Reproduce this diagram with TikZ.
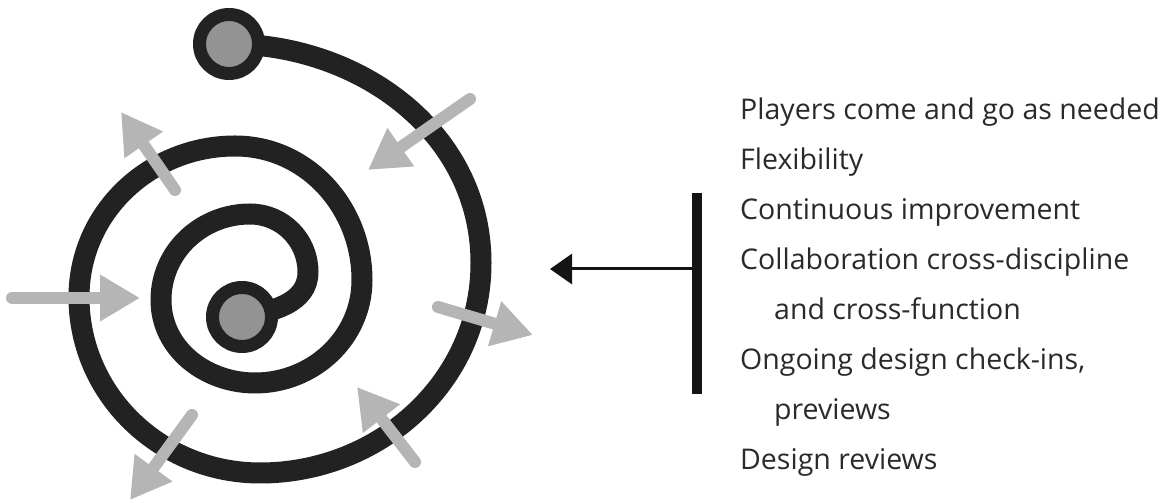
\documentclass[tikz,border=0pt]{standalone}
\usepackage{fontspec}
\setmainfont{Open Sans}
\usetikzlibrary{arrows.meta}
\definecolor{coildark}{HTML}{222222}
\definecolor{hubgray}{HTML}{939393}
\definecolor{flowgray}{HTML}{B5B5B5}
\definecolor{textdark}{HTML}{2A2A2A}
\newcommand{\itemfont}{\fontsize{28.5}{34}\selectfont}

\begin{document}
\begin{tikzpicture}[x=1pt, y=1pt, line join=round,
  coil/.style={draw=coildark, line width=21pt, line cap=round},
  hub/.style={circle, draw=coildark, fill=hubgray, line width=13pt, minimum size=59pt, inner sep=0pt},
  flow/.style={draw=flowgray, line width=12pt, line cap=round, -{Triangle[length=40pt,width=44pt]}},
  item/.style={anchor=base west, font=\itemfont, text=textdark, inner sep=0pt}]
\useasboundingbox (0,0) rectangle (1173,503);

\coordinate (s0) at (229,459);
\coordinate (s1) at (481,240);
\coordinate (s2) at (260,30);
\coordinate (s3) at (79,206);
\coordinate (s4) at (235,357);
\coordinate (s5) at (362,223);
\coordinate (s6) at (255,120);
\coordinate (s7) at (161,203);
\coordinate (s8) at (250,289);
\coordinate (s9) at (308,231);
\coordinate (s10) at (242,186);

\draw[coil] (s0) to[out=0,in=90] (s1) to[out=-90,in=0] (s2)
  to[out=180,in=-90] (s3) to[out=90,in=180] (s4)
  to[out=0,in=90] (s5) to[out=-90,in=0] (s6)
  to[out=180,in=-90] (s7) to[out=90,in=180] (s8)
  to[out=0,in=90] (s9) to[out=-90,in=10] (s10);

\node[hub] (outerhub) at (s0) {};
\node[hub] (innerhub) at (s10) {};

\coordinate (fromW) at (12,205);   \coordinate (toW) at (140,205);
\coordinate (fromNE) at (470,404); \coordinate (toNE) at (368,333);
\coordinate (fromNW) at (175,313); \coordinate (toNW) at (121,391);
\coordinate (fromE) at (438,196);  \coordinate (toE) at (533,168);
\coordinate (fromSE) at (415,41);  \coordinate (toSE) at (357,116);
\coordinate (fromSW) at (192,88);  \coordinate (toSW) at (130,3);

\foreach \f/\t in {fromW/toW, fromNE/toNE, fromNW/toNW, fromE/toE, fromSE/toSE, fromSW/toSW}
    \draw[flow] (\f) -- (\t);

\coordinate (bartop) at (697,310);
\coordinate (barbot) at (697,109);
\coordinate (barmid) at (697,234);
\coordinate (target) at (550,234);

\draw[line width=10pt, draw=black!92] (bartop) -- (barbot);
\draw[line width=3pt, draw=black!92, -{Triangle[length=22pt,width=30pt]}] (barmid) -- (target);

\foreach \txt [count=\i] in {Players come and go as needed, Flexibility,
    Continuous improvement, Collaboration cross-discipline,
    \hspace{34pt}and cross-function, {Ongoing design check-ins,},
    \hspace{34pt}previews, Design reviews}
    \node[item] (line\i) at (740,433-50*\i) {\txt};
\end{tikzpicture}
\end{document}
